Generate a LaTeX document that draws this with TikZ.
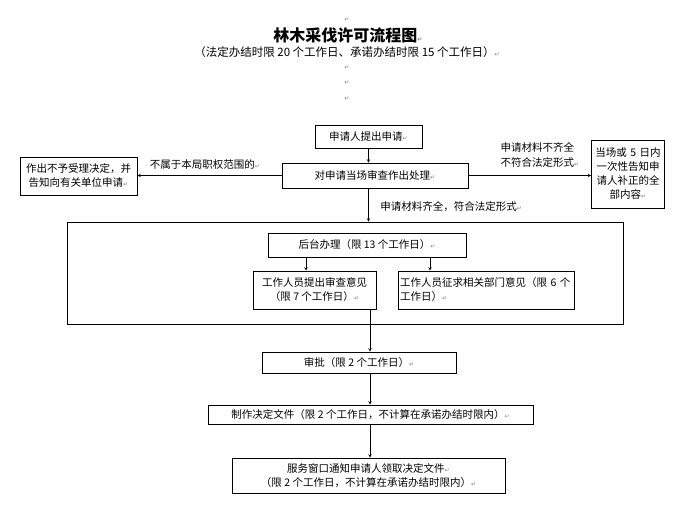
\documentclass[tikz,border=0pt]{standalone}
\usepackage{fontspec}
\setmainfont{Noto Sans CJK SC}
\newfontfamily\symfont{DejaVu Sans}
\tikzset{>=stealth}
\usetikzlibrary{positioning}
\tikzset{box/.style={draw,line width=0.6pt,inner sep=2pt,align=center,font=\fontsize{10.5}{14}\selectfont}}
\tikzset{lbl/.style={inner sep=0pt,font=\fontsize{10.5}{15}\selectfont}}
\newcommand{\pmark}{{\symfont\fontsize{6}{6}\selectfont\color{gray}↵}}

\begin{document}
\begin{tikzpicture}[x=1pt,y=-1pt,line width=0.6pt]
        \useasboundingbox (0,0) rectangle (690,510);
        \coordinate (k1) at (306,0);
        \coordinate (k2) at (430,0);
        \coordinate (k3) at (370,0);
        % heading
        \node (p0) at (347,20) {\pmark};
        \node (title) at (348,35) {\fontsize{16}{16}\selectfont\bfseries 林木采伐许可流程图\pmark};
        \node (sub) at (347,52) {\fontsize{11.5}{11.5}\selectfont（法定办结时限 20 个工作日、承诺办结时限 15 个工作日）\pmark};
        \node (p1) at (347,68) {\pmark};
        \node (p2) at (347,83) {\pmark};
        \node (p3) at (347,99) {\pmark};
        % boxes
        \node [box,minimum width=107pt,minimum height=23pt] (apply) at (368.5,136.5) {申请人提出申请\pmark};
        \node [box,minimum width=186pt,minimum height=25pt] (review) at (375,175.5) {对申请当场审查作出处理\pmark};
        \node [box,minimum width=117pt,minimum height=38pt] (reject) at (78.5,176) {作出不予受理决定，并\\告知向有关单位申请\pmark};
        \node [box,text width=69pt,minimum height=68pt] (notify) at (628,174) {当场或 5 日内\\一次性告知申\\请人补正的全\\部内容\pmark};
        \node [draw,minimum width=556pt,minimum height=102pt] (frame) at (345,273) {};
        \node [box,minimum width=198pt,minimum height=24pt] (backoffice) at (367,245) {后台办理（限 13 个工作日）\pmark};
        \node [box,minimum width=123pt,minimum height=38pt] (opinion) at (314.5,290) {工作人员提出审查意见\\（限 7 个工作日）\pmark};
        \node [box,align=left,text width=172pt,minimum height=38pt] (consult) at (486,290) {工作人员征求相关部门意见（限 6 个\\工作日）\pmark};
        \node [box,minimum width=194pt,minimum height=21pt] (approve) at (359,362.5) {审批（限 2 个工作日）\pmark};
        \node [box,minimum width=325pt,minimum height=19pt] (make) at (370.5,414.5) {制作决定文件（限 2 个工作日，不计算在承诺办结时限内）\pmark};
        \node [box,minimum width=273pt,minimum height=35pt] (deliver) at (368.5,475.5) {服务窗口通知申请人领取决定文件\pmark\\（限 2 个工作日，不计算在承诺办结时限内）\pmark};
        % connectors
        \draw[->] (apply.south) -- (apply.south |- review.north);
        \draw[->] (review.west) -- (review.west -| reject.east);
        \draw[->] (review.east) -- (review.east -| notify.west);
        \draw[->] (apply.south |- review.south) -- (apply.south |- frame.north);
        \draw[->] (backoffice.south -| k1) -- (opinion.north -| k1);
        \draw[->] (backoffice.south -| k2) -- (consult.north -| k2);
        \draw[->] (opinion.south -| k3) -- (approve.north -| k3);
        \draw[->] (approve.south -| k3) -- (make.north -| k3);
        \draw[->] (make.south -| k3) -- (deliver.north -| k3);
        % labels
        \node [lbl] (l1) at (205,165) {不属于本局职权范围的\pmark};
        \node [lbl,align=left] (l2) at (540,155) {申请材料不齐全\\不符合法定形式\pmark};
        \node [lbl,anchor=west] (l3) at (380,207) {申请材料齐全，符合法定形式\pmark};
\end{tikzpicture}
\end{document}
